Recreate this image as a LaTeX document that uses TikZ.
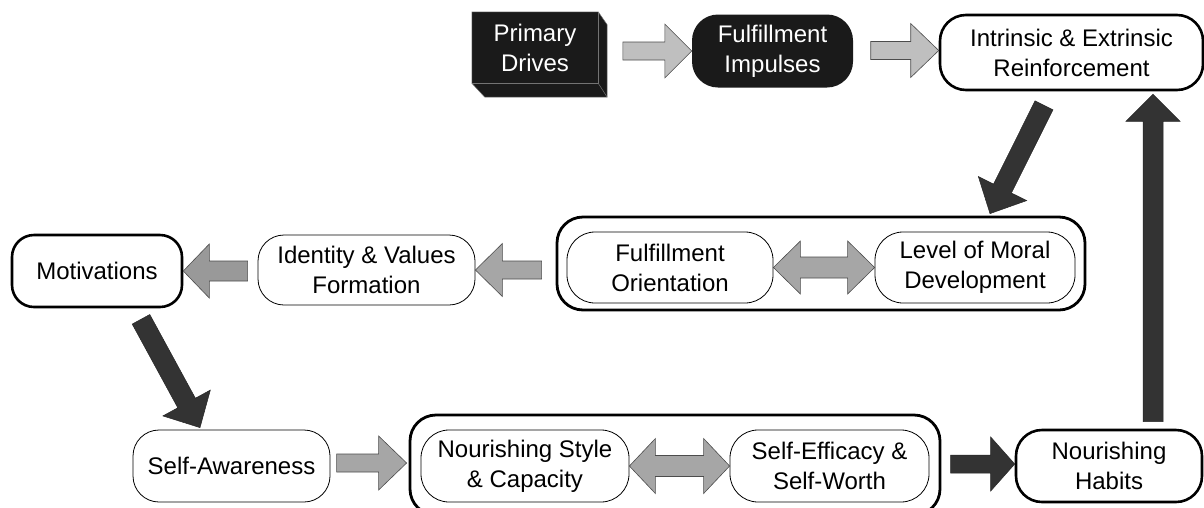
\documentclass[tikz,border=0pt]{standalone}
\usepackage{fontspec}
\setmainfont{Liberation Sans}
\usetikzlibrary{calc}
\definecolor{lgray}{HTML}{BFBFBF}
\definecolor{mgray}{HTML}{A6A6A6}
\definecolor{ngray}{HTML}{999999}
\definecolor{dgray}{HTML}{333333}
\definecolor{boxblack}{HTML}{1A1A1A}
% block arrow: from, to, shaft half width, head half width, head length, style
\newcommand\blockarrow[6]{%
  \coordinate (bah) at ($(#2)!#5!(#1)$);
  \path[#6] ($(#1)!#3!90:(#2)$) -- ($(bah)!#3!90:(#2)$) -- ($(bah)!#4!90:(#2)$) -- (#2)
    -- ($(bah)!#4!-90:(#2)$) -- ($(bah)!#3!-90:(#2)$) -- ($(#1)!#3!-90:(#2)$) -- cycle;}
% double block arrow: from, to, shaft half width, head half width, head length, style
\newcommand\dblarrow[6]{%
  \coordinate (dah) at ($(#1)!#5!(#2)$);
  \coordinate (dbh) at ($(#2)!#5!(#1)$);
  \path[#6] (#1) -- ($(dah)!#4!90:(#2)$) -- ($(dah)!#3!90:(#2)$) -- ($(dbh)!#3!90:(#2)$)
    -- ($(dbh)!#4!90:(#2)$) -- (#2) -- ($(dbh)!#4!-90:(#2)$) -- ($(dbh)!#3!-90:(#2)$)
    -- ($(dah)!#3!-90:(#2)$) -- ($(dah)!#4!-90:(#2)$) -- cycle;}
\tikzset{
  txt/.style={align=center, inner sep=0pt, font=\fontsize{24}{30}\selectfont},
  box/.style={txt, draw=black, line width=0.8pt, rounded corners=24pt, fill=white},
  thickbox/.style={box, line width=2.6pt},
  blackbox/.style={txt, fill=boxblack, text=white},
  container/.style={draw=black, line width=2.8pt, rounded corners=26pt, inner sep=0pt},
  lightarrow/.style={fill=lgray, draw=black!70, line width=0.6pt, line join=miter},
  grayarrow/.style={fill=mgray, draw=black!70, line width=0.6pt, line join=miter},
  grayarrowb/.style={fill=ngray, draw=black!70, line width=0.6pt, line join=miter},
  darkarrow/.style={fill=dgray, draw=black!85, line width=0.5pt, line join=miter},
  edgeline/.style={draw=black!55, line width=0.5pt},
}
\begin{document}
\begin{tikzpicture}[x=1pt, y=-1pt]
\useasboundingbox (0,0) rectangle (1204,507);
\clip (0,0) rectangle (1204,507);
\fill[white] (0,0) rectangle (1204,507);

% containers
\node[container, minimum width=528pt, minimum height=93pt] (oc1) at (821,263.5) {};
\node[container, minimum width=530pt, minimum height=100pt] (oc2) at (675,465) {};

% top row
\node[blackbox, minimum width=126pt, minimum height=71pt] (pd) at (535,47.5) {Primary\\Drives};
\fill[boxblack] (pd.north east) -- ($(pd.north east)+(9,13)$) -- ($(pd.south east)+(9,14)$)
  -- ($(pd.south west)+(13,14)$) -- (pd.south west) -- (pd.south east) -- cycle;
\path[edgeline] (pd.north west) -- (pd.north east) -- ($(pd.north east)+(9,13)$)
  -- ($(pd.south east)+(9,14)$) -- ($(pd.south west)+(13,14)$) -- (pd.south west) -- cycle;
\path[edgeline] (pd.north east) -- (pd.south east) -- (pd.south west);
\path[edgeline] (pd.south east) -- ($(pd.south east)+(9,14)$);

\node[blackbox, rounded corners=26pt, minimum width=161pt, minimum height=73pt] (fi) at (772.5,51) {Fulfillment\\Impulses};
\node[thickbox, rounded corners=26pt, minimum width=263pt, minimum height=75pt] (ie) at (1071.5,52.5) {Intrinsic \& Extrinsic\\Reinforcement};

% middle row
\node[box, rounded corners=28pt, minimum width=206pt, minimum height=71pt] (fo) at (670,267.5) {Fulfillment\\Orientation};
\node[box, rounded corners=28pt, minimum width=200pt, minimum height=71pt] (lm) at (975,267.5) {Level of Moral\\Development};
\node[box, rounded corners=26pt, minimum width=217pt, minimum height=70pt] (idv) at (366.5,270) {Identity \& Values\\Formation};
\node[thickbox, rounded corners=22pt, minimum width=170pt, minimum height=72pt] (mot) at (97,271) {Motivations};

% bottom row
\node[box, rounded corners=26pt, minimum width=197pt, minimum height=72pt] (sa) at (231.5,466) {Self-Awareness};
\node[box, rounded corners=28pt, minimum width=208pt, minimum height=72pt] (ns) at (525,466) {Nourishing Style\\\& Capacity};
\node[box, rounded corners=28pt, minimum width=199pt, minimum height=72pt] (se) at (829.5,466) {Self-Efficacy \&\\Self-Worth};
\node[thickbox, rounded corners=26pt, minimum width=186pt, minimum height=72pt] (nh) at (1109,466) {Nourishing\\Habits};

% connectors
\blockarrow{$(fi.west)+(-69,0)$}{fi.west}{9pt}{27pt}{27pt}{lightarrow}
\blockarrow{$(ie.west)+(-68,-2)$}{$(ie.west)+(0,-2)$}{9pt}{27pt}{28pt}{lightarrow}
\blockarrow{$(ie.south)+(-27.5,14)$}{$(oc1.north)+(169,-2)$}{10pt}{27pt}{28pt}{darkarrow}
\blockarrow{$(nh.north)+(44,-7)$}{$(ie.south)+(81.5,3)$}{10pt}{27pt}{27pt}{darkarrow}
\dblarrow{fo.east}{lm.west}{10.5pt}{26.5pt}{27pt}{grayarrow}
\blockarrow{$(oc1.west |- idv.east)+(-14,0)$}{idv.east}{9pt}{26.5pt}{27pt}{grayarrow}
\blockarrow{$(mot.east -| idv.west)+(-10,0)$}{mot.east}{10pt}{27pt}{26pt}{grayarrowb}
\blockarrow{$(mot.south)+(44,11)$}{$(sa.north)+(-31.5,-2)$}{10pt}{27pt}{28pt}{darkarrow}
\blockarrow{$(oc2.west)+(-72,-2)$}{$(oc2.west)+(-2,-2)$}{9pt}{27pt}{28pt}{grayarrow}
\dblarrow{ns.east}{se.west}{10.5pt}{27.5pt}{26pt}{grayarrow}
\blockarrow{$(nh.west)+(-64,-2)$}{$(nh.west)+(0,-2)$}{9pt}{27pt}{24pt}{darkarrow}
\end{tikzpicture}
\end{document}
